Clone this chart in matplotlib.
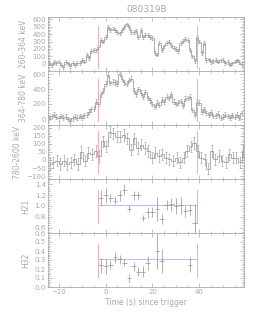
import numpy as np
import matplotlib
matplotlib.use("Agg")
import matplotlib.pyplot as plt
from matplotlib.ticker import MultipleLocator

# light curves, 1 s bins (260-364 keV and 364-780 keV)
t1 = np.arange(-24, 59)
c1 = [10, -20, 20, 15, 30, -10, -40, 25, 5, -30, 10, -20, 15,
      10, 55, 30, 120, 80, 170, 190, 180, 230, 320, 300, 365, 500, 455, 475,
      455, 430, 410, 455, 500, 530, 500, 430, 430, 445, 365, 455, 365, 390,
      390, 365, 345, 145, 125, 285, 190, 235, 280, 300, 255, 210, 200, 170,
      280, 310, 330, 320, 190, 100, 35, 365, 300, 145, 280, 55,
      60, 20, 40, 50, 30, 45, 55, 10, 25, -10, 5, 30, 45, 20, -5]
c2 = [20, 40, 60, 30, 10, 40, 20, 30, 0, -20, 10, 30, 20,
      40, 20, 50, 60, 100, 130, 140, 230, 200, 330, 380, 470, 590, 480, 500,
      490, 470, 600, 540, 490, 470, 520, 540, 380, 330, 400, 350, 300, 360,
      280, 250, 200, 160, 220, 190, 260, 230, 300, 280, 330, 230, 200, 220,
      240, 180, 270, 280, 300, 120, 60, 230, 220, 100, 130, 80,
      60, 90, 40, 50, 70, 20, 30, 60, 40, 20, 50, 30, 60, 20, 80]
e1 = 25
e2 = 32

# 780-2600 keV, 1.5 s bins
t3 = -24.5 + 1.5 * (np.arange(56) + 0.5)
c3 = [-25, -15, -5, -25, -5, -25, -15, 5, -25, 50,
      -5, 45, 35, 55, 25, 115, 85, 175, 165, 145,
      145, 155, 135, 65, 135, 75, 95, 75, 55, 15,
      45, 25, 35, 15, 5, -5, 15, -15, 15, 55,
      85, 105, 55, 15, 5, -55, 55, 5, 25, -5,
      -15, 35, 15, 15, -15, 55]
e3 = 35

# hardness ratios, 2 s bins from -3 to 39
th = np.arange(-2, 39, 2)
h21 = [1.15, 1.2, 1.15, 1.1, 1.2, 1.3, 0.95, 1.2, 1.2, 0.78, 0.88,
       0.89, 0.95, 0.76, 1.02, 1.03, 1.0, 1.01, 0.9, 0.93, 0.69]
h21e = [0.15, 0.14, 0.08, 0.07, 0.1, 0.1, 0.06, 0.08, 0.08, 0.06, 0.1,
        0.1, 0.22, 0.1, 0.1, 0.12, 0.15, 0.15, 0.1, 0.1, 0.35]
h32 = [0.24, 0.23, 0.25, 0.33, 0.31, 0.27, 0.1, 0.23, 0.17, 0.17, 0.27,
       np.nan, 0.4, 0.29, np.nan, np.nan, np.nan, np.nan, np.nan, 0.25, np.nan]
h32e = [0.08, 0.08, 0.05, 0.06, 0.05, 0.04, 0.04, 0.05, 0.05, 0.06, 0.08,
        np.nan, 0.2, 0.13, np.nan, np.nan, np.nan, np.nan, np.nan, 0.08, np.nan]
h21_mean = 1.01
h32_mean = 0.31
t_start, t_end = -3, 39

grey = "#aaaaaa"
dgrey = "#909090"
red = "#f4a0a0"
blue = "#bcbcea"

fig = plt.figure(figsize=(2.69, 3.23), dpi=100)
left, width = 48 / 269, 196 / 269
bot, ph = 1 - 287 / 323, 54 / 323

labels = ["260-364 keV", "364-780 keV", "780-2600 keV", "H21", "H32"]
ylims = [(-97, 631), (-80, 640), (-118, 217), (0.5, 1.5), (0.0, 0.6)]
ymaj = [100, 200, 50, 0.2, 0.1]
redspan = [(0.05, 0.84), (0.08, 0.85), (0.12, 0.89), (0.19, 0.8), (0.18, 0.8)]

axes = []
for i in range(5):
    ax = fig.add_axes([left, bot + (4 - i) * ph, width, ph])
    axes.append(ax)
    ax.set_xlim(-24.5, 59)
    ax.set_ylim(*ylims[i])
    ax.xaxis.set_major_locator(MultipleLocator(20))
    ax.xaxis.set_minor_locator(MultipleLocator(5))
    ax.yaxis.set_major_locator(MultipleLocator(ymaj[i]))
    ax.yaxis.set_minor_locator(MultipleLocator(ymaj[i] / 5))
    ax.tick_params(which="both", direction="in", top=True, right=True,
                   colors=grey, labelsize=5, width=0.5, pad=1.5)
    ax.tick_params(which="major", length=3)
    ax.tick_params(which="minor", length=1.5)
    for s in ax.spines.values():
        s.set_color(grey)
        s.set_linewidth(0.6)
    ax.set_ylabel(labels[i], color=grey, fontsize=5.5, labelpad=3)
    if i < 4:
        ax.tick_params(labelbottom=False)
    y0, y1 = redspan[i]
    ax.axvline(t_start, y0, y1, color=red, lw=0.6, zorder=3)
    ax.axvline(t_end, y0, y1, color=red, lw=0.6, zorder=3)

for ax, t, c, e in [(axes[0], t1, c1, e1), (axes[1], t1, c2, e2), (axes[2], t3, c3, e3)]:
    ax.step(t, c, where="mid", color=dgrey, lw=0.5)
    ax.errorbar(t, c, yerr=e, fmt="none", ecolor=dgrey, elinewidth=0.4,
                capsize=0.8, capthick=0.4)

axes[3].hlines(h21_mean, t_start, t_end, color=blue, lw=0.7)
axes[3].errorbar(th, h21, xerr=1, yerr=h21e, fmt="none", ecolor=dgrey, elinewidth=0.5)
axes[4].hlines(h32_mean, t_start, t_end, color=blue, lw=0.7)
axes[4].errorbar(th, h32, xerr=1, yerr=h32e, fmt="none", ecolor=dgrey, elinewidth=0.5)

axes[4].set_xlabel("Time (s) since trigger", color=grey, fontsize=5.5, labelpad=2)
fig.text(0.545, 1 - 10 / 323, "080319B", color=grey, fontsize=6.5, ha="center", va="center")

fig.savefig("out.png", dpi=100)
